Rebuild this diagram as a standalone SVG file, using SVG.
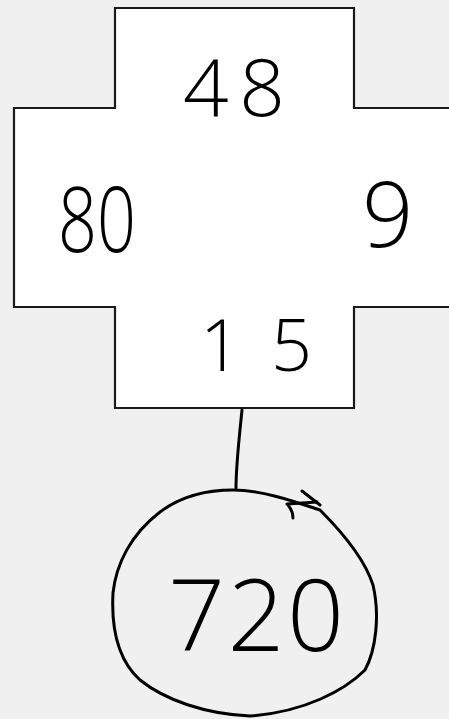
<svg xmlns="http://www.w3.org/2000/svg" width="449" height="719" viewBox="0 0 449 719">
<style>
.shape{fill:#ffffff;stroke:#1a1a1a;stroke-width:2.2;stroke-linejoin:miter}
.pen{fill:none;stroke:#000;stroke-width:3;stroke-linecap:round;stroke-linejoin:round}
.num{font-family:"Open Sans","Liberation Sans",sans-serif;font-weight:300;fill:#000}
</style>
<rect x="0" y="0" width="449" height="719" fill="#f0f0f0"/>
<g id="cross">
<path class="shape" d="M115,8 H354 V108 H452 V307 H354 V408 H115 V307 H14 V108 H115 Z"/>
<text class="num" x="183" y="116" font-size="80" textLength="102" lengthAdjust="spacing">48</text>
<text class="num" x="58" y="252" font-size="90" textLength="78" lengthAdjust="spacingAndGlyphs">80</text>
<text class="num" x="362" y="247" font-size="90">9</text>
<text class="num" x="200" y="371" font-size="72" textLength="112" lengthAdjust="spacing">15</text>
</g>
<g id="connectors">
<path class="pen" d="M242,410 C239,440 236,465 236,488"/>
</g>
<g id="result">
<path class="pen" d="M233,490 C260,490 290,500 320,510 C345,535 365,560 373,585 C380,615 376,650 365,670 C345,690 305,712 250,716 C205,714 165,700 140,680 C118,660 111,630 113,593 C116,565 130,535 160,512 C180,497 205,490 233,490 Z"/>
<path class="pen" d="M287,504 L317,502 M287,504 C291,508 293,512 293,518 M302,491 L320,505"/>
<text class="num" x="168" y="651" font-size="100" textLength="176" lengthAdjust="spacing">720</text>
</g>
</svg>
